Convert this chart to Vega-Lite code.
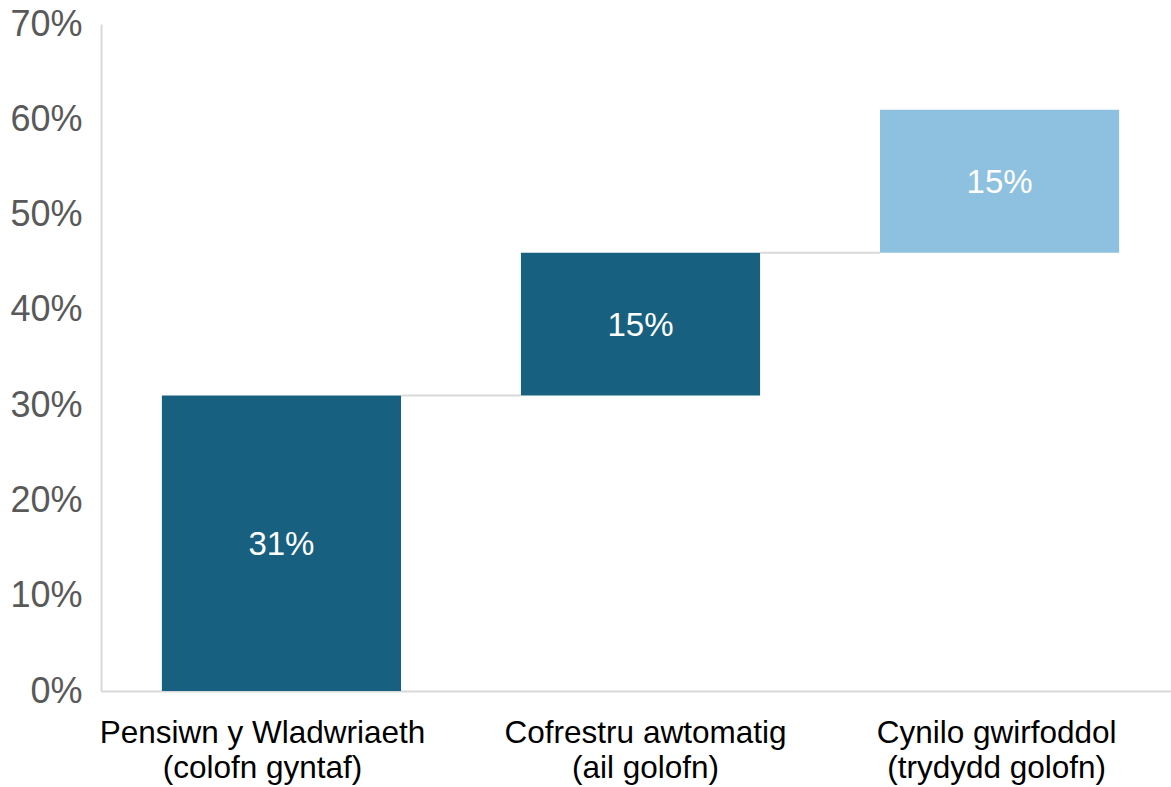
{
  "$schema": "https://vega.github.io/schema/vega-lite/v6.json",
  "width": 1070,
  "height": 667,
  "autosize": {"type": "none"},
  "padding": {"left": 101, "top": 24, "right": 0, "bottom": 96},
  "background": "white",
  "config": {"view": {"stroke": null}, "font": "Liberation Sans"},
  "datasets": {
    "bars": [
      {"cat": "Pensiwn y Wladwriaeth|(colofn gyntaf)", "start": 0, "end": 0.31, "amount": 0.31, "kind": "statutory"},
      {"cat": "Cofrestru awtomatig|(ail golofn)", "start": 0.31, "end": 0.46, "amount": 0.15, "kind": "statutory"},
      {"cat": "Cynilo gwirfoddol|(trydydd golofn)", "start": 0.46, "end": 0.61, "amount": 0.15, "kind": "voluntary"}
    ],
    "links": [
      {"from": "Pensiwn y Wladwriaeth|(colofn gyntaf)", "to": "Cofrestru awtomatig|(ail golofn)", "level": 0.31},
      {"from": "Cofrestru awtomatig|(ail golofn)", "to": "Cynilo gwirfoddol|(trydydd golofn)", "level": 0.46}
    ]
  },
  "layer": [
    {
      "data": {"name": "bars"},
      "mark": {"type": "bar"},
      "encoding": {
        "x": {
          "field": "cat", "type": "nominal", "sort": null,
          "scale": {"paddingInner": 0.334, "paddingOuter": 0.157, "align": 0.54},
          "axis": {
            "title": null, "labelAngle": 0, "labelExpr": "split(datum.label, '|')",
            "labelFontSize": 31.5, "labelColor": "#000000", "labelLineHeight": 35,
            "labelPadding": 26, "labelLimit": 0, "labelAlign": "center", "ticks": false,
            "labelOffset": {
              "condition": [
                {"test": "datum.value === 'Pensiwn y Wladwriaeth|(colofn gyntaf)'", "value": -19},
                {"test": "datum.value === 'Cofrestru awtomatig|(ail golofn)'", "value": 5}
              ],
              "value": -3
            },
            "domainColor": "#D9D9D9", "domainWidth": 2, "labelFont": "Liberation Sans"
          }
        },
        "y": {
          "field": "start", "type": "quantitative",
          "scale": {"domain": [0, 0.7], "nice": false},
          "axis": {
            "title": null, "format": ".0%", "values": [0, 0.1, 0.2, 0.3, 0.4, 0.5, 0.6, 0.7],
            "labelFontSize": 36, "labelColor": "#595959", "labelPadding": 19, "ticks": false,
            "grid": false, "domainColor": "#D9D9D9", "domainWidth": 2, "labelFont": "Liberation Sans"
          }
        },
        "y2": {"field": "end"},
        "color": {
          "field": "kind", "type": "nominal", "legend": null,
          "scale": {"domain": ["statutory", "voluntary"], "range": ["#17607F", "#8EC1E0"]}
        }
      }
    },
    {
      "data": {"name": "links"},
      "mark": {"type": "rule", "color": "#D9D9D9", "strokeWidth": 2},
      "encoding": {
        "x": {"field": "from", "type": "nominal", "bandPosition": 1, "sort": null},
        "x2": {"field": "to", "bandPosition": 0},
        "y": {"field": "level", "type": "quantitative"}
      }
    },
    {
      "data": {"name": "bars"},
      "transform": [{"fold": ["start", "end"], "as": ["k", "v"]}],
      "mark": {"type": "text", "color": "white", "fontSize": 33, "font": "Liberation Sans", "dy": 2},
      "encoding": {
        "x": {"field": "cat", "type": "nominal", "sort": null},
        "y": {"field": "v", "type": "quantitative", "aggregate": "mean"},
        "text": {"field": "amount", "type": "quantitative", "format": ".0%"}
      }
    }
  ]
}
